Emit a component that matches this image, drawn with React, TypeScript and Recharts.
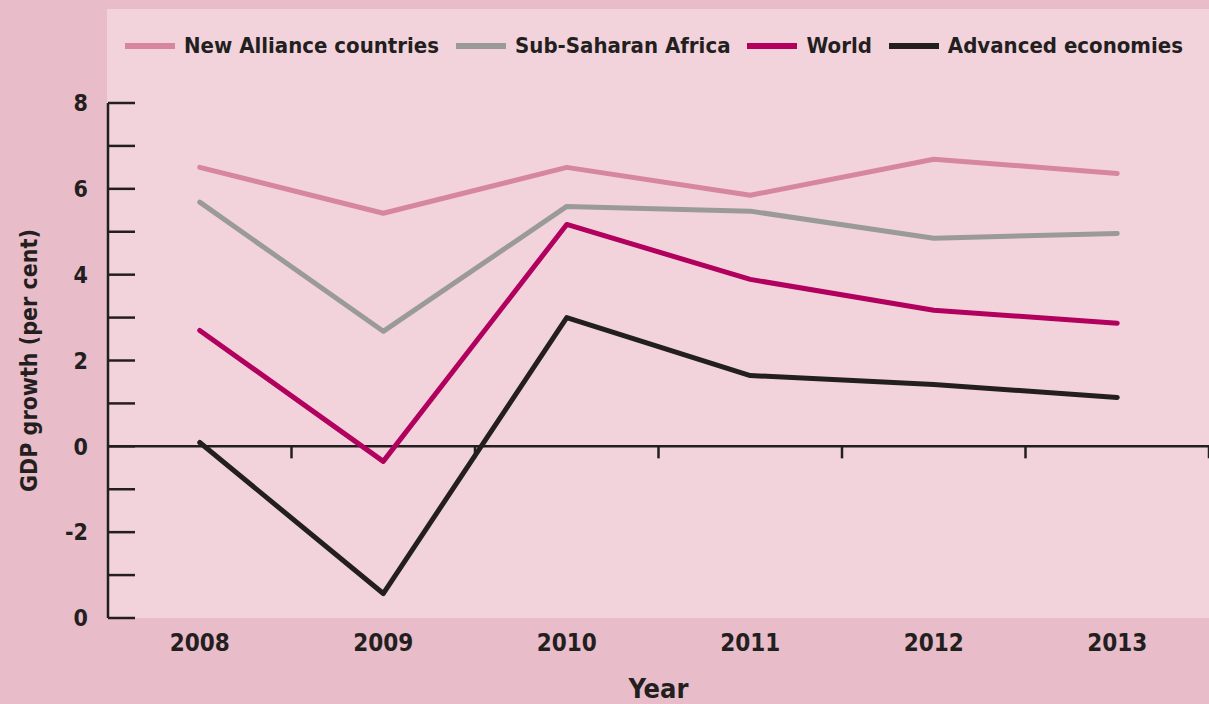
/**
 * GdpGrowthChart — GDP growth lines, New Alliance vs regional/world benchmarks.
 */

import { LineChart, Line, XAxis, YAxis, ReferenceLine } from 'recharts';

document.body.style.margin = '0';

const years = ['2008', '2009', '2010', '2011', '2012', '2013'];
const newAlliance = [6.5, 5.43, 6.5, 5.85, 6.69, 6.36];
const subSaharan = [5.69, 2.68, 5.59, 5.48, 4.85, 4.96];
const world = [2.7, -0.35, 5.17, 3.89, 3.17, 2.87];
const advanced = [0.09, -3.43, 3.0, 1.65, 1.44, 1.14];

const yTicks = [-4, -3, -2, -1, 0, 1, 2, 3, 4, 5, 6, 7, 8];
// the source labels the bottom tick "0"
const yTickLabels: Record<number, string> = { 8: '8', 6: '6', 4: '4', 2: '2', 0: '0', '-2': '-2', '-4': '0' };

const series = [
  { key: 'newAlliance', name: 'New Alliance countries', color: '#d6869f' },
  { key: 'subSaharan', name: 'Sub-Saharan Africa', color: '#9b9a9b' },
  { key: 'world', name: 'World', color: '#b1005e' },
  { key: 'advanced', name: 'Advanced economies', color: '#231f20' },
];

const data = years.map((year, i) => ({
  idx: i,
  year,
  newAlliance: newAlliance[i],
  subSaharan: subSaharan[i],
  world: world[i],
  advanced: advanced[i],
}));

const FONT = "'DejaVu Sans Condensed', 'Roboto', sans-serif";
const INK = '#231f20';

function YTick({ x, y, payload }: any) {
  const label = yTickLabels[payload.value];
  return (
    <g>
      <line x1={x + 20} x2={x + 47} y1={y} y2={y} stroke={INK} strokeWidth={2.5} />
      {label !== undefined && (
        <text
          x={x}
          y={y}
          dy="0.36em"
          textAnchor="end"
          fill={INK}
          fontSize={23}
          fontWeight={700}
          fontFamily={FONT}
        >
          {label}
        </text>
      )}
    </g>
  );
}

export default function App() {
  return (
    <div style={{ position: 'relative', width: 1209, height: 704, background: '#e8bcc8', overflow: 'hidden' }}>
      <div
        style={{ position: 'absolute', left: 107, top: 9, width: 1102, height: 609, background: '#f2d3dc' }}
      />
      <div
        style={{
          position: 'absolute',
          left: 125,
          top: 33,
          display: 'flex',
          alignItems: 'center',
          fontFamily: FONT,
          fontWeight: 700,
          fontSize: 22,
          color: INK,
          whiteSpace: 'nowrap',
        }}
      >
        {series.map((s) => (
          <div key={s.key} style={{ display: 'flex', alignItems: 'center', marginRight: 17 }}>
            <div style={{ width: 50, height: 6, background: s.color, marginRight: 9 }} />
            <span>{s.name}</span>
          </div>
        ))}
      </div>
      <LineChart
        width={1209}
        height={704}
        data={data}
        margin={{ top: 103, right: 0, left: 0, bottom: 0 }}
        style={{ position: 'absolute', left: 0, top: 0 }}
      >
        <XAxis
          dataKey="idx"
          type="number"
          domain={[-0.5, years.length - 0.5]}
          ticks={years.map((_, i) => i)}
          tickFormatter={(i: number) => years[i]}
          axisLine={false}
          tickLine={false}
          tickSize={0}
          tickMargin={16}
          height={86}
          tick={{ fill: INK, fontSize: 24, fontWeight: 700, fontFamily: FONT }}
          label={{
            value: 'Year',
            position: 'insideBottom',
            offset: 6,
            fill: INK,
            fontSize: 27,
            fontWeight: 700,
            fontFamily: FONT,
          }}
        />
        <YAxis
          domain={[-4, 8]}
          ticks={yTicks}
          interval={0}
          width={108}
          tickSize={0}
          tickMargin={20}
          tickLine={false}
          axisLine={{ stroke: INK, strokeWidth: 2.5 }}
          tick={<YTick />}
          label={{
            value: 'GDP growth (per cent)',
            angle: -90,
            position: 'insideLeft',
            offset: 29,
            fill: INK,
            fontSize: 23,
            fontWeight: 700,
            fontFamily: FONT,
            style: { textAnchor: 'middle' },
          }}
        />
        <ReferenceLine y={0} stroke={INK} strokeWidth={2.5} />
        {years.map((_, i) => (
          <ReferenceLine
            key={i}
            segment={[
              { x: i + 0.5, y: 0 },
              { x: i + 0.5, y: -0.28 },
            ]}
            stroke={INK}
            strokeWidth={2.5}
            ifOverflow="visible"
          />
        ))}
        {series.map((s) => (
          <Line
            key={s.key}
            type="linear"
            dataKey={s.key}
            name={s.name}
            stroke={s.color}
            strokeWidth={5}
            strokeLinecap="round"
            strokeLinejoin="round"
            dot={false}
            activeDot={false}
            isAnimationActive={false}
          />
        ))}
      </LineChart>
    </div>
  );
}
